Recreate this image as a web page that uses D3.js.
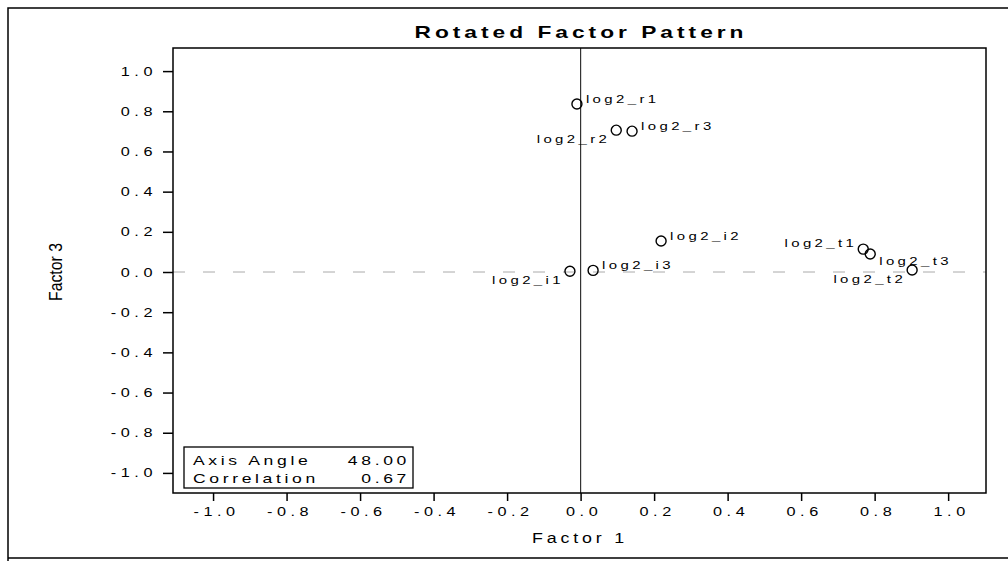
<!DOCTYPE html>
<html>
<head>
<meta charset="utf-8">
<script src="https://cdn.jsdelivr.net/npm/d3@7"></script>
<style>
  html, body { margin: 0; padding: 0; background: #fff; }
  svg { display: block; font-family: 'Liberation Sans', Arial, sans-serif; }
</style>
</head>
<body>
<div class="chart_container"></div>
<script>
'use strict';

// variable names and their loadings on the two rotated factors
const variables = ['log2_r1', 'log2_r2', 'log2_r3', 'log2_i1', 'log2_i2', 'log2_i3', 'log2_t1', 'log2_t2', 'log2_t3'];
const factor1 = [-0.010, 0.097, 0.140, -0.029, 0.219, 0.034, 0.769, 0.902, 0.788];
const factor3 = [0.836, 0.706, 0.701, 0.004, 0.154, 0.008, 0.114, 0.010, 0.090];

const tickValues = [-1.0, -0.8, -0.6, -0.4, -0.2, 0.0, 0.2, 0.4, 0.6, 0.8, 1.0];

const statLabels = ['Axis Angle', 'Correlation'];
const statValues = ['48.00', '0.67'];

// where each label sits around its point
const labelSide = {
  log2_r1: 'ur', log2_r2: 'll', log2_r3: 'ur',
  log2_i1: 'll', log2_i2: 'ur', log2_i3: 'ur',
  log2_t1: 'ul', log2_t2: 'll', log2_t3: 'lr'
};

const width = 1008,
  height = 561;

const plot = { left: 173, top: 48, right: 986, bottom: 493 };

// the scanned print has wide, squat letters: widen each text horizontally
const stretch = (sel, k) => sel.each(function () {
  const w = this.getComputedTextLength();
  d3.select(this)
    .attr('textLength', w * k)
    .attr('lengthAdjust', 'spacingAndGlyphs');
});

const svg = d3.select('.chart_container')
  .append('svg')
  .attr('width', width)
  .attr('height', height);

// outer frame
svg.append('path')
  .attr('d', 'M8,561 L8,8 L1008,8 M8,558 L1008,558')
  .attr('fill', 'none')
  .attr('stroke', '#000')
  .attr('stroke-width', 1.5);

const xScale = d3.scaleLinear()
  .domain([-1.109, 1.103])
  .range([plot.left, plot.right]);

const yScale = d3.scaleLinear()
  .domain([-1.10, 1.115])
  .range([plot.bottom, plot.top]);

const fmt = d => d.toFixed(1);

const xAxis = d3.axisBottom(xScale)
  .tickValues(tickValues)
  .tickFormat(fmt)
  .tickSize(8)
  .tickPadding(6);

const yAxis = d3.axisLeft(yScale)
  .tickValues(tickValues)
  .tickFormat(fmt)
  .tickSize(10)
  .tickPadding(6);

const gx = svg.append('g')
  .attr('id', 'x-axis')
  .attr('transform', `translate(0, ${plot.bottom})`)
  .call(xAxis);

const gy = svg.append('g')
  .attr('id', 'y-axis')
  .attr('transform', `translate(${plot.left}, 0)`)
  .call(yAxis);

[gx, gy].forEach(g => {
  g.select('.domain').remove();
  g.selectAll('.tick line').attr('stroke', '#000').attr('stroke-width', 1.5);
  g.selectAll('.tick text')
    .attr('fill', '#000')
    .style('font-size', '12.5px')
    .style('letter-spacing', '3.5px')
    .call(stretch, 1.3);
});
gx.selectAll('.tick text').attr('dx', '3px');

// zero reference lines
svg.append('line')
  .attr('x1', plot.left)
  .attr('x2', plot.right)
  .attr('y1', yScale(0))
  .attr('y2', yScale(0))
  .attr('stroke', '#aaa')
  .attr('stroke-width', 1)
  .attr('stroke-dasharray', '12,18');

svg.append('line')
  .attr('x1', xScale(0))
  .attr('x2', xScale(0))
  .attr('y1', plot.top)
  .attr('y2', plot.bottom)
  .attr('stroke', '#333')
  .attr('stroke-width', 1.2);

// plot frame
svg.append('rect')
  .attr('x', plot.left)
  .attr('y', plot.top)
  .attr('width', plot.right - plot.left)
  .attr('height', plot.bottom - plot.top)
  .attr('fill', 'none')
  .attr('stroke', '#000')
  .attr('stroke-width', 1.5);

const dataset = variables.map((name, i) => ({ name, x: factor1[i], y: factor3[i], side: labelSide[name] }));

svg.selectAll('circle.point')
  .data(dataset)
  .enter()
  .append('circle')
  .attr('class', 'point')
  .attr('cx', d => xScale(d.x))
  .attr('cy', d => yScale(d.y))
  .attr('r', 5)
  .attr('fill', 'none')
  .attr('stroke', '#000')
  .attr('stroke-width', 1.4);

const offsets = {
  ur: { dx: 9, dy: -1, anchor: 'start' },
  lr: { dx: 9, dy: 11, anchor: 'start' },
  ul: { dx: -6, dy: -2, anchor: 'end' },
  ll: { dx: -6, dy: 13, anchor: 'end' }
};

svg.selectAll('text.point-label')
  .data(dataset)
  .enter()
  .append('text')
  .attr('class', 'point-label')
  .attr('x', d => xScale(d.x) + offsets[d.side].dx)
  .attr('y', d => yScale(d.y) + offsets[d.side].dy)
  .attr('text-anchor', d => offsets[d.side].anchor)
  .style('font-size', '11.5px')
  .style('letter-spacing', '2.6px')
  .text(d => d.name)
  .call(stretch, 1.3);

// title
svg.append('text')
  .attr('x', 581)
  .attr('y', 38)
  .attr('text-anchor', 'middle')
  .attr('textLength', 333)
  .attr('lengthAdjust', 'spacingAndGlyphs')
  .style('font-size', '17px')
  .style('font-weight', 'bold')
  .style('letter-spacing', '3px')
  .text('Rotated Factor Pattern');

// axis titles
svg.append('text')
  .attr('x', 580)
  .attr('y', 543)
  .attr('text-anchor', 'middle')
  .attr('textLength', 96)
  .attr('lengthAdjust', 'spacingAndGlyphs')
  .style('font-size', '14px')
  .style('letter-spacing', '3px')
  .text('Factor 1');

svg.append('text')
  .attr('transform', `translate(62, ${yScale(0)}) rotate(-90)`)
  .attr('text-anchor', 'middle')
  .attr('textLength', 58)
  .attr('lengthAdjust', 'spacingAndGlyphs')
  .style('font-size', '18px')
  .text('Factor 3');

// axis angle / correlation box
const box = svg.append('g').attr('transform', 'translate(184, 447)');

box.append('rect')
  .attr('width', 229)
  .attr('height', 41)
  .attr('fill', '#fff')
  .attr('stroke', '#000')
  .attr('stroke-width', 1.3);

statLabels.forEach((label, i) => {
  box.append('text')
    .attr('x', 9)
    .attr('y', 18 + i * 18)
    .style('font-size', '13.5px')
    .style('letter-spacing', '2.8px')
    .text(label)
    .call(stretch, 1.3);

  box.append('text')
    .attr('x', 226)
    .attr('y', 18 + i * 18)
    .attr('text-anchor', 'end')
    .style('font-size', '13.5px')
    .style('letter-spacing', '2.8px')
    .text(statValues[i])
    .call(stretch, 1.3);
});
</script>
</body>
</html>
